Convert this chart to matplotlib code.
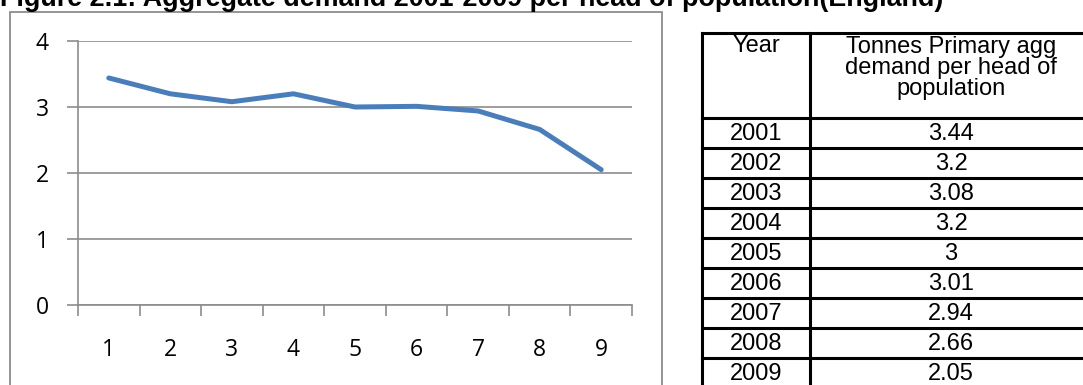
import matplotlib
matplotlib.use("Agg")
import matplotlib.pyplot as plt
from matplotlib.lines import Line2D
from matplotlib.patches import Rectangle

categories = [1, 2, 3, 4, 5, 6, 7, 8, 9]
values = [3.44, 3.2, 3.08, 3.2, 3.0, 3.01, 2.94, 2.66, 2.05]
years = ["2001", "2002", "2003", "2004", "2005", "2006", "2007", "2008", "2009"]
value_labels = ["3.44", "3.2", "3.08", "3.2", "3", "3.01", "2.94", "2.66", "2.05"]
title = "Figure 2.1: Aggregate demand 2001-2009 per head of population(England)"
header_year = "Year"
header_value = "Tonnes Primary agg\ndemand per head of\npopulation"

plt.rcParams["font.family"] = ["Open Sans", "DejaVu Sans"]

W, H = 1083, 385
fig = plt.figure(figsize=(W / 100, H / 100), dpi=100)

def fx(px):
    return px / W

def fy(py):
    return 1 - py / H

# chart border
fig.patches.append(Rectangle((fx(10), fy(400)), fx(662) - fx(10), fy(12) - fy(400),
                             transform=fig.transFigure, fill=False, edgecolor="#8c8c8c",
                             linewidth=1.3, clip_on=False))

ax = fig.add_axes([fx(78), fy(305), fx(632) - fx(78), fy(41) - fy(305)])
ax.plot(categories, values, color="#4A7EBB", linewidth=3.6, solid_capstyle="round",
        solid_joinstyle="round", zorder=3)
ax.set_xlim(0.5, 9.5)
ax.set_ylim(0, 4)
ax.set_yticks([0, 1, 2, 3, 4])
ax.set_xticks(categories)
ax.set_xticks([0.5 + i for i in range(10)], minor=True)
ax.grid(axis="y", color="#8c8c8c", linewidth=1.2)
for s in ["top", "right"]:
    ax.spines[s].set_visible(False)
for s in ["left", "bottom"]:
    ax.spines[s].set_color("#8c8c8c")
    ax.spines[s].set_linewidth(1.2)
ax.tick_params(axis="x", which="major", length=0, pad=24, labelsize=16.5)
ax.tick_params(axis="x", which="minor", length=8, color="#8c8c8c", width=1.2)
ax.tick_params(axis="y", length=8, color="#8c8c8c", width=1.2, pad=13, labelsize=16.5)
ax.set_axisbelow(True)

# title
fig.text(fx(0), fy(6), title, fontsize=19.4, fontweight="bold", family="Liberation Sans",
         ha="left", va="baseline")

# table
x0, x1, x2 = 702, 810, 1090
top, head_bot, row_h = 33, 118, 30
lw = 2.2
row_lines = [top, head_bot] + [head_bot + row_h * (i + 1) for i in range(len(years))]
for y in row_lines:
    fig.add_artist(Line2D([fx(x0), fx(x2)], [fy(y), fy(y)], color="black", linewidth=lw,
                          transform=fig.transFigure))
for x in [x0, x1]:
    fig.add_artist(Line2D([fx(x), fx(x)], [fy(top), fy(head_bot + row_h * len(years))],
                          color="black", linewidth=lw, transform=fig.transFigure))

fs_tab = 17
fig.text(fx((x0 + x1) / 2), fy(46), header_year, ha="center", va="center",
         fontsize=fs_tab, family="Liberation Sans")
fig.text(fx(951), fy(68), header_value, ha="center", va="center", fontsize=fs_tab,
         family="Liberation Sans", linespacing=0.92)
for i, (yr, v) in enumerate(zip(years, value_labels)):
    yc = head_bot + row_h * i + row_h / 2 + 1
    fig.text(fx((x0 + x1) / 2), fy(yc), yr, ha="center", va="center", fontsize=fs_tab,
             family="Liberation Sans")
    fig.text(fx(951), fy(yc), v, ha="center", va="center", fontsize=fs_tab,
             family="Liberation Sans")

fig.savefig("out.png", dpi=100)
